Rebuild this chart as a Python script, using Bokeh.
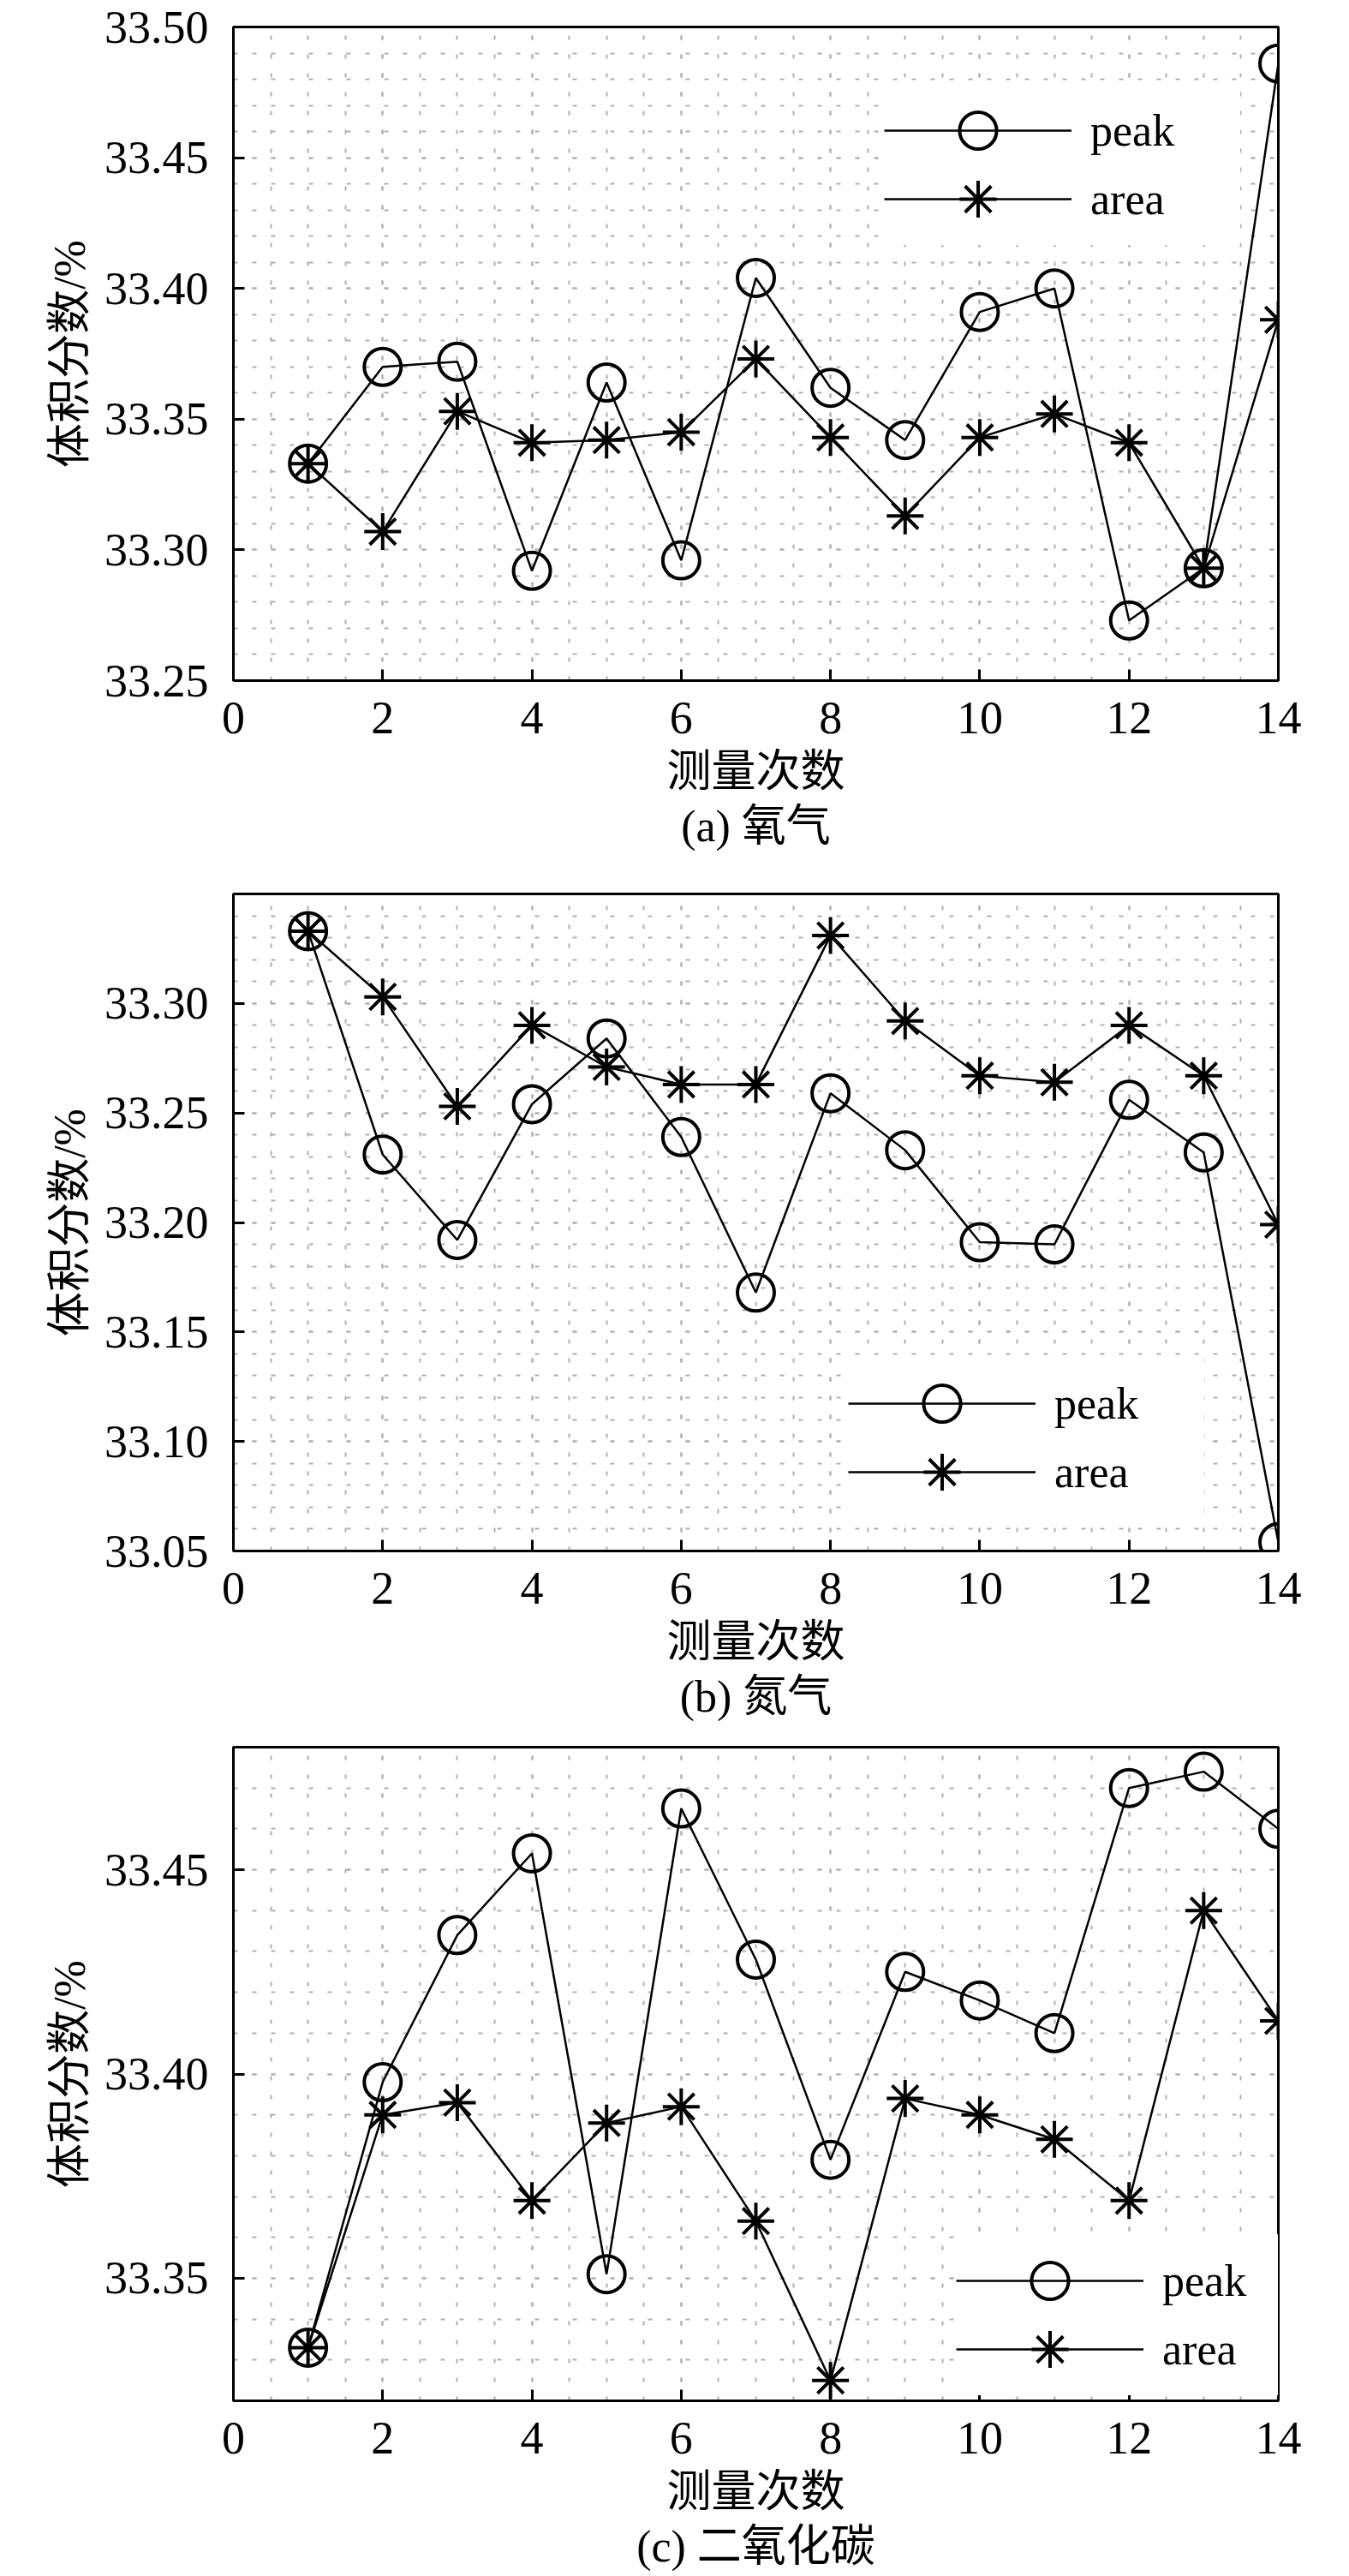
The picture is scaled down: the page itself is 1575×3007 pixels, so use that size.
from bokeh.plotting import figure
from bokeh.models import Range1d, FixedTicker, Legend, LegendItem, Title, PrintfTickFormatter
from bokeh.layouts import column
from bokeh.embed import file_html
from bokeh.resources import INLINE

# ---------------- data ----------------
runs = [1, 2, 3, 4, 5, 6, 7, 8, 9, 10, 11, 12, 13, 14]
x_major = [0, 2, 4, 6, 8, 10, 12, 14]
x_minor = [i * 0.5 for i in range(0, 29)]

o2_peak = [33.333, 33.370, 33.372, 33.292, 33.364, 33.296, 33.404, 33.362,
           33.342, 33.391, 33.400, 33.273, 33.293, 33.486]
o2_area = [33.333, 33.307, 33.353, 33.341, 33.342, 33.345, 33.373, 33.343,
           33.313, 33.343, 33.352, 33.341, 33.293, 33.388]

n2_peak = [33.333, 33.231, 33.192, 33.254, 33.284, 33.239, 33.168, 33.259,
           33.233, 33.191, 33.190, 33.256, 33.232, 33.054]
n2_area = [33.333, 33.303, 33.253, 33.290, 33.271, 33.263, 33.263, 33.331,
           33.292, 33.267, 33.264, 33.290, 33.267, 33.199]

co2_peak = [33.333, 33.398, 33.434, 33.454, 33.351, 33.465, 33.428, 33.379,
            33.425, 33.418, 33.410, 33.470, 33.474, 33.460]
co2_area = [33.333, 33.390, 33.393, 33.369, 33.388, 33.392, 33.364, 33.325,
            33.394, 33.390, 33.384, 33.369, 33.440, 33.413]

o2_yrange = (33.25, 33.50)
o2_yticks = [33.25, 33.30, 33.35, 33.40, 33.45, 33.50]
n2_yrange = (33.05, 33.35)
n2_yticks = [33.05, 33.10, 33.15, 33.20, 33.25, 33.30]
co2_yrange = (33.32, 33.48)
co2_yticks = [33.35, 33.40, 33.45]

series_labels = ["peak", "area"]
x_label = "测量次数"
y_label = "体积分数/%"
captions = ["(a) 氧气", "(b) 氮气", "(c) 二氧化碳"]

# ---------------- style ----------------
SERIF = "'Liberation Serif', 'Noto Sans CJK SC'"
FS = "54px"
GRID_COLOR = "#b0b0b0"
GRID_DASH = "5 17"


def make_legend(item, loc):
    return Legend(items=[item], location=loc, orientation="vertical",
                  glyph_width=219, glyph_height=108, spacing=0,
                  padding=0, margin=0, label_standoff=22, label_width=175,
                  label_height=40,
                  label_text_font=SERIF, label_text_font_size="52px",
                  label_text_color="black",
                  background_fill_color="white", background_fill_alpha=1.0,
                  border_line_color=None)


def make_panel(peak, area, yrange, yticks, caption, frame_h, top_b, bottom_b,
               leg_x, leg_y_peak, leg_y_area):
    p = figure(frame_width=1220, frame_height=frame_h,
               min_border_left=272, min_border_right=56,
               min_border_top=top_b, min_border_bottom=bottom_b,
               x_range=Range1d(0, 14), y_range=Range1d(*yrange),
               output_backend="svg", toolbar_location=None,
               background_fill_color="white", border_fill_color="white")
    p.outline_line_color = "black"
    p.outline_line_width = 3

    lo = int(round(yrange[0] * 100))
    hi = int(round(yrange[1] * 100))
    y_minor = [v / 100 for v in range(lo, hi + 1)]

    p.xaxis.ticker = FixedTicker(ticks=x_major, minor_ticks=x_minor)
    p.yaxis.ticker = FixedTicker(ticks=yticks, minor_ticks=y_minor)
    p.yaxis.formatter = PrintfTickFormatter(format="%.2f")

    for ax in (p.xaxis[0], p.yaxis[0]):
        ax.axis_line_color = "black"
        ax.axis_line_width = 3
        ax.major_tick_in = 13
        ax.major_tick_out = 0
        ax.major_tick_line_width = 3
        ax.major_tick_line_color = "black"
        ax.minor_tick_line_color = None
        ax.major_label_text_font = SERIF
        ax.major_label_text_font_size = FS
        ax.major_label_text_color = "black"
        ax.axis_label_text_font = SERIF
        ax.axis_label_text_font_size = "52px"
        ax.axis_label_text_font_style = "normal"
        ax.axis_label_text_color = "black"
    p.xaxis.major_label_standoff = 21
    p.yaxis.major_label_standoff = 25
    p.xaxis.axis_label = x_label
    p.yaxis.axis_label = y_label
    p.xaxis.axis_label_standoff = 13
    p.yaxis.axis_label_standoff = 9

    for g in (p.xgrid[0], p.ygrid[0]):
        g.grid_line_color = GRID_COLOR
        g.grid_line_width = 2
        g.grid_line_dash = GRID_DASH
        g.minor_grid_line_color = GRID_COLOR
        g.minor_grid_line_width = 2
        g.minor_grid_line_dash = GRID_DASH

    lp = p.line(runs, peak, line_color="black", line_width=2.5)
    sp = p.scatter(runs, peak, marker="circle", size=43, fill_color=None,
                   line_color="black", line_width=4)
    la = p.line(runs, area, line_color="black", line_width=2.5)
    sa = p.scatter(runs, area, marker="asterisk", size=43,
                   line_color="black", line_width=4)

    leg_area = make_legend(LegendItem(label=series_labels[1], renderers=[la, sa]),
                           (leg_x, leg_y_area))
    leg_peak = make_legend(LegendItem(label=series_labels[0], renderers=[lp, sp]),
                           (leg_x, leg_y_peak))
    p.add_layout(leg_area)
    p.add_layout(leg_peak)

    t = Title(text=caption, align="center", text_font=SERIF,
              text_font_size="52px", text_font_style="normal",
              text_color="black", standoff=5)
    p.add_layout(t, "below")
    return p


pa = make_panel(o2_peak, o2_area, o2_yrange, o2_yticks, captions[0], 763, 31, 224,
                760, 588, 508)
pb = make_panel(n2_peak, n2_area, n2_yrange, n2_yticks, captions[1], 767, 25, 200,
                718, 118, 38)
pc = make_panel(co2_peak, co2_area, co2_yrange, co2_yticks, captions[2], 763, 28, 190,
                844, 86, 6)

layout = column(pa, pb, pc, spacing=0)
open("out.html", "w").write(file_html(layout, INLINE))
